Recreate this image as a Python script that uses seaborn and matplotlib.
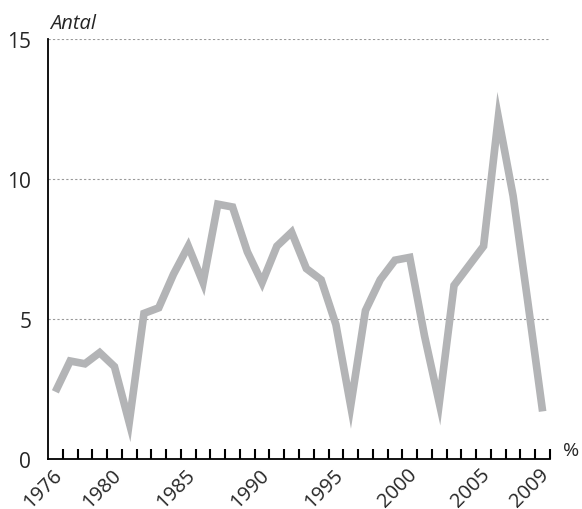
import pandas as pd
import seaborn as sns
import matplotlib.pyplot as plt

# Data
years = list(range(1976, 2010))
antal = [2.4, 3.5, 3.4, 3.8, 3.3, 1.3, 5.2, 5.4, 6.6, 7.6,
         6.3, 9.1, 9.0, 7.4, 6.3, 7.6, 8.1, 6.8, 6.4, 4.8,
         1.9, 5.3, 6.4, 7.1, 7.2, 4.4, 2.0, 6.2, 6.9, 7.6,
         12.2, 9.4, 5.6, 1.7]
labelled_years = [1976, 1980, 1985, 1990, 1995, 2000, 2005, 2009]
y_ticks = [0, 5, 10, 15]

df = pd.DataFrame({"pos": range(len(years)), "antal": antal})

sns.set_style("white")
plt.rcParams["font.family"] = ["Open Sans", "DejaVu Sans"]

fig = plt.figure(figsize=(5.82, 5.10), dpi=100)
ax = fig.add_axes([48 / 582, 50 / 510, 502 / 582, 420 / 510])

sns.lineplot(data=df, x="pos", y="antal", ax=ax, color="#b3b4b6", linewidth=5.5,
             solid_joinstyle="miter", solid_capstyle="butt")

ax.set_xlim(-0.5, len(years) - 0.5)
ax.set_ylim(0, 15)

# dotted grid lines
for v in y_ticks[1:]:
    ax.axhline(v, color="#9a9a9a", linestyle=(0, (2, 2)), linewidth=0.8, zorder=0)

# y axis
ax.set_yticks(y_ticks)
ax.set_yticklabels([str(v) for v in y_ticks], fontsize=15)
ax.tick_params(axis="y", left=False, length=0, pad=12)

# x axis: inward ticks at every category boundary, labels only for some years
bounds = [i + 0.5 for i in range(len(years))]
ax.set_xticks(bounds)
ax.set_xticklabels([str(y) if y in labelled_years else "" for y in years],
                   rotation=45, ha="right", va="baseline", rotation_mode="anchor",
                   fontsize=14.5)
ax.tick_params(axis="x", bottom=True, direction="in", length=7.5, width=1.5,
               color="black", pad=11.5)

ax.set_xlabel("")
ax.set_ylabel("")

for s in ["top", "right"]:
    ax.spines[s].set_visible(False)
for s in ["left", "bottom"]:
    ax.spines[s].set_color("black")
    ax.spines[s].set_linewidth(1.3)

ax.text(0.004, 1.015, "Antal", transform=ax.transAxes, fontsize=14.5,
        style="italic", ha="left", va="bottom")
ax.text(1.025, 0.0, "%", transform=ax.transAxes, fontsize=14,
        ha="left", va="bottom")

plt.savefig("out.png", dpi=100)
plt.close()
